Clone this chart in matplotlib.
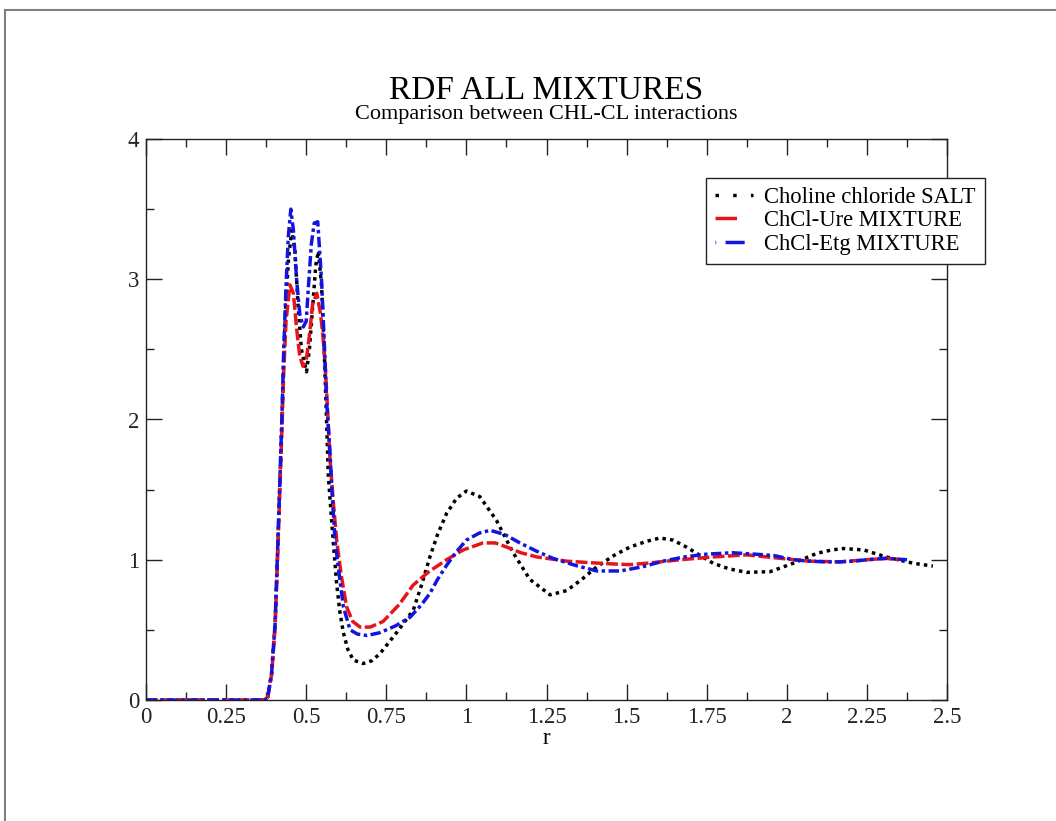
import matplotlib
matplotlib.use("Agg")
import matplotlib.pyplot as plt
from matplotlib.lines import Line2D

plt.rcParams['font.family'] = ['Liberation Serif', 'DejaVu Serif']

# ---------------- data ----------------
salt_r = [0, 0.37, 0.38, 0.392, 0.403, 0.41, 0.417, 0.424, 0.43, 0.437, 0.445, 0.455, 0.465, 0.475,
          0.485, 0.501, 0.51, 0.52, 0.53, 0.538, 0.548, 0.556, 0.562, 0.569, 0.584, 0.595, 0.605,
          0.616, 0.63, 0.647, 0.678, 0.705, 0.73, 0.782, 0.834, 0.86, 0.886, 0.91, 0.938, 0.97,
          1.0, 1.042, 1.094, 1.146, 1.198, 1.261, 1.313, 1.36, 1.407, 1.46, 1.51, 1.56, 1.604,
          1.645, 1.687, 1.73, 1.77, 1.82, 1.875, 1.948, 2.02, 2.093, 2.14, 2.177, 2.24, 2.31,
          2.395, 2.456]
salt_g = [0, 0, 0.02, 0.19, 0.55, 1.0, 1.5, 1.98, 2.45, 2.85, 3.15, 3.35, 3.2, 2.8,
          2.5, 2.34, 2.5, 2.8, 3.1, 3.2, 2.95, 2.5, 2.1, 1.6, 1.14, 0.83, 0.63,
          0.48, 0.36, 0.285, 0.26, 0.28, 0.33, 0.48, 0.64, 0.82, 1.02, 1.18, 1.33, 1.44,
          1.49, 1.45, 1.28, 1.05, 0.86, 0.75, 0.78, 0.86, 0.95, 1.03, 1.09, 1.13, 1.155,
          1.14, 1.09, 1.03, 0.975, 0.935, 0.91, 0.915, 0.975, 1.045, 1.07, 1.08, 1.07, 1.02,
          0.975, 0.955]

ure_r = [0, 0.37, 0.38, 0.392, 0.403, 0.41, 0.417, 0.424, 0.43, 0.437, 0.449, 0.46, 0.47, 0.48,
         0.49, 0.5, 0.51, 0.52, 0.533, 0.545, 0.552, 0.559, 0.566, 0.574, 0.585, 0.595, 0.61,
         0.626, 0.645, 0.668, 0.7, 0.74, 0.79, 0.834, 0.88, 0.938, 0.99, 1.052, 1.09, 1.126,
         1.17, 1.22, 1.313, 1.38, 1.458, 1.51, 1.562, 1.667, 1.77, 1.875, 1.98, 2.07, 2.165,
         2.25, 2.31, 2.35]
ure_g = [0, 0, 0.02, 0.18, 0.52, 0.98, 1.45, 1.92, 2.35, 2.7, 2.96, 2.9, 2.65, 2.45,
         2.38, 2.42, 2.6, 2.82, 2.9, 2.75, 2.6, 2.4, 2.1, 1.73, 1.4, 1.14, 0.88,
         0.665, 0.56, 0.52, 0.52, 0.56, 0.68, 0.82, 0.91, 1.0, 1.07, 1.12, 1.12, 1.09,
         1.05, 1.02, 0.99, 0.98, 0.97, 0.965, 0.975, 1.0, 1.02, 1.035, 1.01, 0.99, 0.985,
         1.0, 1.01, 1.0]

etg_r = [0, 0.37, 0.38, 0.392, 0.403, 0.41, 0.417, 0.424, 0.43, 0.437, 0.444, 0.452, 0.46, 0.47,
         0.48, 0.491, 0.5, 0.507, 0.516, 0.525, 0.536, 0.548, 0.556, 0.564, 0.574, 0.58, 0.59,
         0.6, 0.616, 0.637, 0.66, 0.69, 0.73, 0.78, 0.824, 0.86, 0.886, 0.91, 0.938, 0.97,
         1.0, 1.04, 1.074, 1.12, 1.167, 1.22, 1.27, 1.34, 1.407, 1.48, 1.55, 1.614, 1.68,
         1.75, 1.83, 1.9, 1.96, 2.02, 2.07, 2.12, 2.165, 2.21, 2.25, 2.31, 2.375]
etg_g = [0, 0, 0.02, 0.19, 0.55, 1.02, 1.5, 2.0, 2.5, 2.95, 3.3, 3.5, 3.35, 3.0,
         2.75, 2.66, 2.7, 2.95, 3.25, 3.4, 3.41, 2.99, 2.57, 2.12, 1.78, 1.5, 1.14,
         0.95, 0.665, 0.5, 0.47, 0.46, 0.48, 0.53, 0.59, 0.68, 0.76, 0.86, 0.96, 1.06,
         1.14, 1.19, 1.21, 1.18, 1.12, 1.06, 1.01, 0.96, 0.92, 0.92, 0.95, 0.99, 1.02,
         1.04, 1.05, 1.04, 1.03, 1.0, 0.99, 0.985, 0.985, 0.99, 1.0, 1.01, 1.0]

labels = ["Choline chloride SALT", "ChCl-Ure MIXTURE", "ChCl-Etg MIXTURE"]
colors = ["#000000", "#e8141b", "#1414e0"]

W, H = 1056, 821
fig = plt.figure(figsize=(W / 100, H / 100), dpi=100)
ax = fig.add_axes([146 / W, 1 - 700 / H, (947 - 146) / W, (700 - 139) / H])

lw = 2.5
ax.plot(salt_r, salt_g, color=colors[0], lw=lw, linestyle=(0, (1, 1.2)), dash_capstyle='butt')
ax.plot(ure_r, ure_g, color=colors[1], lw=lw, linestyle=(0, (3.4, 1)), dash_capstyle='butt')
ax.plot(etg_r, etg_g, color=colors[2], lw=lw, linestyle=(0, (3, 1, 1, 1)), dash_capstyle='butt')

ax.set_xlim(0, 2.5)
ax.set_ylim(0, 4)
ax.set_xticks([0, 0.25, 0.5, 0.75, 1, 1.25, 1.5, 1.75, 2, 2.25, 2.5])
ax.set_xticklabels(["0", "0.25", "0.5", "0.75", "1", "1.25", "1.5", "1.75", "2", "2.25", "2.5"])
ax.set_xticks([0.125 + 0.25 * i for i in range(10)], minor=True)
ax.set_yticks([0, 1, 2, 3, 4])
ax.set_yticklabels(["0", "1", "2", "3", "4"])
ax.set_yticks([0.5, 1.5, 2.5, 3.5], minor=True)
ax.tick_params(which='both', direction='in', top=True, right=True, width=1.0, labelsize=16.5,
               colors='#222222')
ax.tick_params(which='major', length=11.5)
ax.tick_params(which='minor', length=5.8)
ax.tick_params(axis='x', pad=5)
ax.tick_params(axis='y', pad=5)
for s in ax.spines.values():
    s.set_linewidth(1.0)
    s.set_color('#222222')

ax.set_xlabel("r", fontsize=16.5, labelpad=0)

fig.text(546.5 / W, 1 - 91 / H, "RDF ALL MIXTURES", ha='center', va='center', fontsize=24)
fig.text(546.5 / W, 1 - 115 / H, "Comparison between CHL-CL interactions", ha='center',
         va='center', fontsize=16)

handles = [
    Line2D([], [], color=colors[0], lw=lw, linestyle=(0, (1, 4.1)), dash_capstyle='butt'),
    Line2D([], [], color=colors[1], lw=lw, linestyle=(0.8, (7, 10)), dash_capstyle='butt'),
    Line2D([], [], color=colors[2], lw=lw, linestyle=(0.8, (1, 2.7, 5.5, 10)), dash_capstyle='butt'),
]
leg = fig.legend(handles, labels, loc='upper left', bbox_to_anchor=(706 / W, 1 - 178 / H),
                 bbox_transform=fig.transFigure, borderaxespad=0, fontsize=16.3,
                 frameon=True, fancybox=False, edgecolor='#222222', framealpha=1,
                 borderpad=0.38, handlelength=1.7, handletextpad=0.5, labelspacing=0.12)
leg.get_frame().set_linewidth(1.0)

# page frame (left and top edges)
fig.add_artist(Line2D([5 / W, 5 / W], [0, 1 - 10 / H], transform=fig.transFigure,
                      color='#808080', lw=1.5))
fig.add_artist(Line2D([5 / W, 1], [1 - 10 / H, 1 - 10 / H], transform=fig.transFigure,
                      color='#808080', lw=1.5))

fig.savefig("out.png", dpi=100)
